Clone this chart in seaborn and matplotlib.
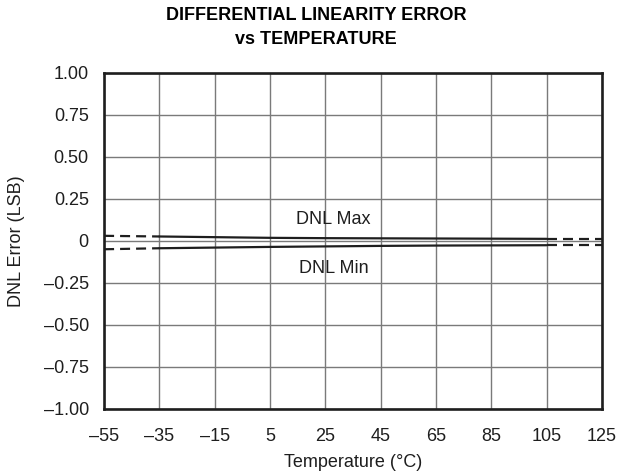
"""
DNL error vs temperature, redrawn with seaborn.
"""

import matplotlib
matplotlib.use("Agg")
import matplotlib.pyplot as plt
import seaborn as sns
import pandas as pd

# Data
temps = [-55, -35, -15, 5, 25, 45, 65, 85, 105, 125]
dnl_max = [0.030, 0.026, 0.022, 0.018, 0.016, 0.015, 0.014, 0.013, 0.012, 0.012]
dnl_min = [-0.050, -0.044, -0.040, -0.036, -0.033, -0.030, -0.028, -0.027, -0.026, -0.026]
x_ticks = [-55, -35, -15, 5, 25, 45, 65, 85, 105, 125]
y_ticks = [-1.00, -0.75, -0.50, -0.25, 0, 0.25, 0.50, 0.75, 1.00]

sns.set_theme(style="white")
plt.rcParams["font.family"] = ["Liberation Sans", "DejaVu Sans"]

INK = "#1e1e1e"
FS = 13
LW = 1.6


def fmt_y(v):
    if v == 0:
        return "0"
    return f"{v:.2f}".replace("-", "\u2013")


def main():
    df = pd.DataFrame({"temp": temps, "max": dnl_max, "min": dnl_min})
    mid = df[(df["temp"] >= -35) & (df["temp"] <= 105)]
    lo = df[df["temp"] <= -35]
    hi = df[df["temp"] >= 105]

    fig = plt.figure(figsize=(6.27, 4.76), dpi=100)
    ax = fig.add_axes([0.166, 0.141, 0.794, 0.706])

    for col in ["max", "min"]:
        sns.lineplot(data=mid, x="temp", y=col, color=INK, linewidth=LW, ax=ax)
        for part in (lo, hi):
            sns.lineplot(data=part, x="temp", y=col, color=INK, linewidth=LW,
                         linestyle=(0, (4.5, 2.7)), ax=ax)

    ax.text(28, 0.125, "DNL Max", ha="center", va="center", fontsize=FS, color=INK)
    ax.text(28, -0.163, "DNL Min", ha="center", va="center", fontsize=FS, color=INK)

    ax.set_xlim(-55, 125)
    ax.set_ylim(-1.0, 1.0)
    ax.set_xticks(x_ticks)
    ax.set_xticklabels([str(t).replace("-", "\u2013") for t in x_ticks])
    ax.set_yticks(y_ticks)
    ax.set_yticklabels([fmt_y(v) for v in y_ticks])
    ax.tick_params(axis="y", length=0, labelsize=FS, colors=INK, pad=11)
    ax.tick_params(axis="x", length=0, labelsize=FS, colors=INK, pad=14)

    ax.grid(True, color="#7a7a7a", linewidth=1.0)
    ax.set_axisbelow(True)
    for sp in ax.spines.values():
        sp.set_color(INK)
        sp.set_linewidth(1.9)

    ax.set_xlabel("Temperature (\u00b0C)", fontsize=FS, color=INK, labelpad=6)
    ax.set_ylabel("DNL Error (LSB)", fontsize=FS, color=INK, labelpad=13)

    fig.text(0.504, 1 - 15 / 476, "DIFFERENTIAL LINEARITY ERROR",
             ha="center", va="center", fontsize=FS, fontweight="bold", color="black")
    fig.text(0.504, 1 - 40 / 476, "vs TEMPERATURE",
             ha="center", va="center", fontsize=FS, fontweight="bold", color="black")

    fig.savefig("out.png", dpi=100)
    plt.close(fig)


if __name__ == "__main__":
    main()
